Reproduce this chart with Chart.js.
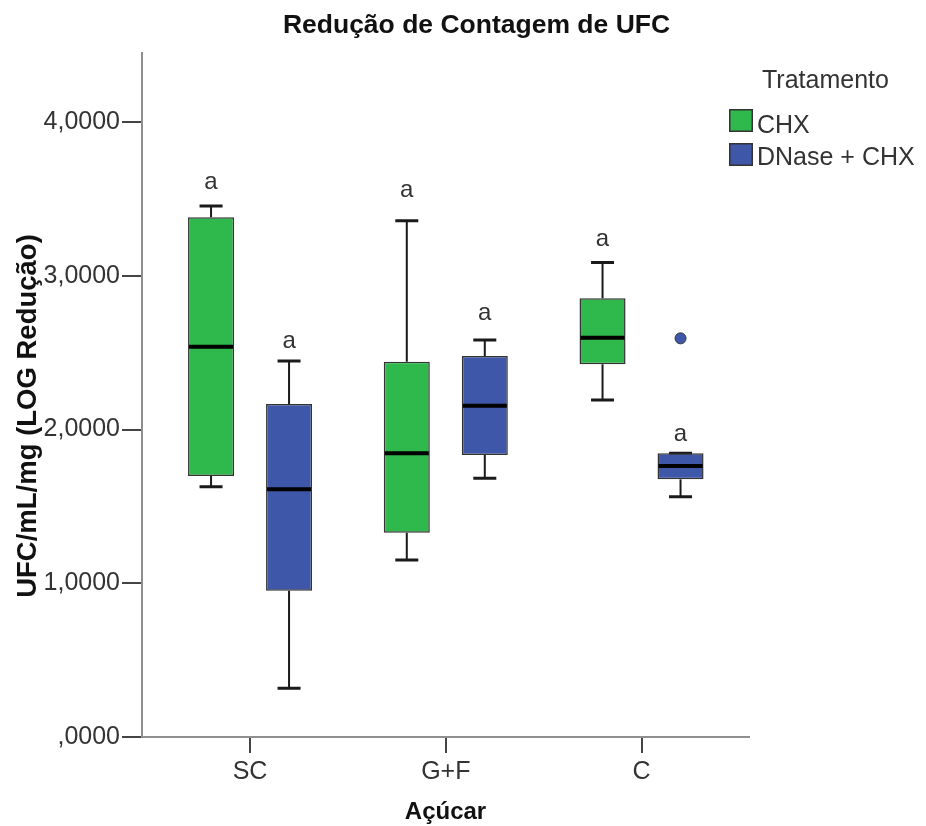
<!DOCTYPE html>
<html>
<head>
<meta charset="utf-8">
<script src="https://cdn.jsdelivr.net/npm/chart.js@4/dist/chart.umd.min.js"></script>
<style>
  html, body { margin: 0; padding: 0; background: #ffffff; }
  #wrap { width: 926px; height: 826px; position: relative; }
</style>
</head>
<body>
<div id="wrap"><canvas id="c" width="926" height="826"></canvas></div>
<script>
// ---------- data ----------
const categories = ['SC', 'G+F', 'C'];
const seriesNames = ['CHX', 'DNase + CHX'];
const chartTitle = 'Redução de Contagem de UFC';
const xTitle = 'Açúcar';
const yTitle = 'UFC/mL/mg (LOG Redução)';
const legendTitle = 'Tratamento';

const chxMin    = [1.628, 1.151, 2.192];
const chxQ1     = [1.698, 1.329, 2.424];
const chxMedian = [2.539, 1.845, 2.597];
const chxQ3     = [3.380, 2.441, 2.853];
const chxMax    = [3.454, 3.358, 3.087];
const chxOutliers = [[], [], []];
const chxLetters  = ['a', 'a', 'a'];
const chxLetterAt = [3.564, 3.512, 3.193];

const dnMin    = [0.317, 1.683, 1.563];
const dnQ1     = [0.952, 1.834, 1.676];
const dnMedian = [1.611, 2.155, 1.763];
const dnQ3     = [2.166, 2.478, 1.845];
const dnMax    = [2.446, 2.582, 1.845];
const dnOutliers = [[], [], [2.593]];
const dnLetters  = ['a', 'a', 'a'];
const dnLetterAt = [2.530, 2.712, 1.925];

const yTicks = [0, 1, 2, 3, 4];

// ---------- styles ----------
const FONT = '"Liberation Sans", Arial, Helvetica, sans-serif';
const GREEN = '#2fb84b';
const BLUE = '#3e57a8';
const seriesColors = [GREEN, BLUE];

const stats = [
  { min: chxMin, q1: chxQ1, med: chxMedian, q3: chxQ3, max: chxMax, out: chxOutliers, letters: chxLetters, letterAt: chxLetterAt },
  { min: dnMin,  q1: dnQ1,  med: dnMedian,  q3: dnQ3,  max: dnMax,  out: dnOutliers,  letters: dnLetters,  letterAt: dnLetterAt }
];

const datasets = stats.map((s, d) => ({
  label: seriesNames[d],
  data: categories.map((c, i) => ({ x: i + 1, y: [s.q1[i], s.q3[i]] })),
  backgroundColor: seriesColors[d],
  borderColor: '#333333',
  borderWidth: 1.5,
  borderSkipped: false,
  categoryPercentage: 0.797,
  barPercentage: 0.59
}));

const boxPlugin = {
  id: 'boxExtras',
  beforeDatasetsDraw(chart) {
    const ctx = chart.ctx, y = chart.scales.y;
    ctx.save();
    stats.forEach((s, d) => {
      const meta = chart.getDatasetMeta(d);
      meta.data.forEach((bar, i) => {
        const x = bar.x;
        const capHalf = 11.5;
        ctx.strokeStyle = '#1a1a1a';
        ctx.lineWidth = 2;
        ctx.beginPath();
        ctx.moveTo(x, y.getPixelForValue(s.q3[i]));
        ctx.lineTo(x, y.getPixelForValue(s.max[i]));
        ctx.moveTo(x, y.getPixelForValue(s.q1[i]));
        ctx.lineTo(x, y.getPixelForValue(s.min[i]));
        ctx.stroke();
        ctx.lineWidth = 3;
        ctx.beginPath();
        [s.max[i], s.min[i]].forEach(v => {
          const py = y.getPixelForValue(v);
          ctx.moveTo(x - capHalf, py);
          ctx.lineTo(x + capHalf, py);
        });
        ctx.stroke();
      });
    });
    ctx.restore();
  },
  afterDatasetsDraw(chart) {
    const ctx = chart.ctx, y = chart.scales.y;
    ctx.save();
    stats.forEach((s, d) => {
      const meta = chart.getDatasetMeta(d);
      meta.data.forEach((bar, i) => {
        const x = bar.x, half = bar.width / 2;
        // median
        ctx.strokeStyle = '#000000';
        ctx.lineWidth = 4;
        ctx.beginPath();
        const pm = y.getPixelForValue(s.med[i]);
        ctx.moveTo(x - half + 1, pm);
        ctx.lineTo(x + half - 1, pm);
        ctx.stroke();
        // outliers
        s.out[i].forEach(v => {
          ctx.beginPath();
          ctx.arc(x, y.getPixelForValue(v), 5.5, 0, Math.PI * 2);
          ctx.fillStyle = seriesColors[d];
          ctx.fill();
          ctx.lineWidth = 1;
          ctx.strokeStyle = '#333';
          ctx.stroke();
        });
        // letters
        ctx.fillStyle = '#333';
        ctx.font = '24px ' + FONT;
        ctx.textAlign = 'center';
        ctx.textBaseline = 'alphabetic';
        ctx.fillText(s.letters[i], x, y.getPixelForValue(s.letterAt[i]));
      });
    });
    ctx.restore();
  },
  afterDraw(chart) {
    const ctx = chart.ctx;
    const area = chart.chartArea;
    ctx.save();
    // main title
    ctx.fillStyle = '#111';
    ctx.font = 'bold 26.5px ' + FONT;
    ctx.textAlign = 'center';
    ctx.textBaseline = 'alphabetic';
    ctx.fillText(chartTitle, 476.5, 33);
    // y title
    ctx.save();
    ctx.translate(36, (area.top + area.bottom) / 2 + 21);
    ctx.rotate(-Math.PI / 2);
    ctx.font = 'bold 27.5px ' + FONT;
    ctx.textAlign = 'center';
    ctx.textBaseline = 'alphabetic';
    ctx.fillText(yTitle, 0, 0);
    ctx.restore();
    // legend
    ctx.fillStyle = '#333';
    ctx.font = '25px ' + FONT;
    ctx.textAlign = 'left';
    ctx.textBaseline = 'alphabetic';
    ctx.fillText(legendTitle, 762, 88);
    const rows = [{ top: 109, base: 133 }, { top: 143, base: 165 }];
    seriesNames.forEach((n, d) => {
      ctx.fillStyle = seriesColors[d];
      ctx.fillRect(729, rows[d].top, 24, 23);
      ctx.strokeStyle = '#333';
      ctx.lineWidth = 1.5;
      ctx.strokeRect(729.75, rows[d].top + 0.75, 22.5, 21.5);
      ctx.fillStyle = '#333';
      ctx.fillText(n, 757, rows[d].base);
    });
    ctx.restore();
  }
};

new Chart(document.getElementById('c'), {
  type: 'bar',
  data: { datasets },
  plugins: [boxPlugin],
  options: {
    responsive: false,
    animation: false,
    devicePixelRatio: 1,
    layout: { padding: { top: 53, right: 177, left: 0, bottom: 0 } },
    plugins: { legend: { display: false }, title: { display: false }, tooltip: { enabled: false } },
    scales: {
      x: {
        type: 'linear',
        min: 0.448,
        max: 3.549,
        offset: false,
        afterBuildTicks(scale) { scale.ticks = categories.map((c, i) => ({ value: i + 1 })); },
        afterFit(scale) { scale.height = 89; },
        ticks: {
          callback: (v) => categories[Math.round(v) - 1] || '',
          font: { family: FONT, size: 25 },
          color: '#333',
          padding: 4,
          autoSkip: false,
          maxRotation: 0
        },
        grid: { display: true, drawOnChartArea: false, drawTicks: true, tickLength: 16, color: '#444', lineWidth: 2, offset: false },
        border: { display: true, color: '#8f8f8f', width: 2 },
        title: { display: true, text: xTitle, font: { family: FONT, size: 24, weight: 'bold', lineHeight: 1 }, color: '#111', padding: { top: 0, bottom: 2 } }
      },
      y: {
        type: 'linear',
        min: 0,
        max: 4.449,
        afterBuildTicks(scale) { scale.ticks = yTicks.map(v => ({ value: v })); },
        afterFit(scale) { scale.width = 142; },
        ticks: {
          callback: (v) => (v === 0 ? ',0000' : v.toFixed(4).replace('.', ',')),
          font: { family: FONT, size: 25 },
          color: '#333',
          padding: 2
        },
        grid: { display: true, drawOnChartArea: false, drawTicks: true, tickLength: 20, color: '#444', lineWidth: 2 },
        border: { display: true, color: '#8f8f8f', width: 2 }
      }
    }
  }
});
</script>
</body>
</html>
